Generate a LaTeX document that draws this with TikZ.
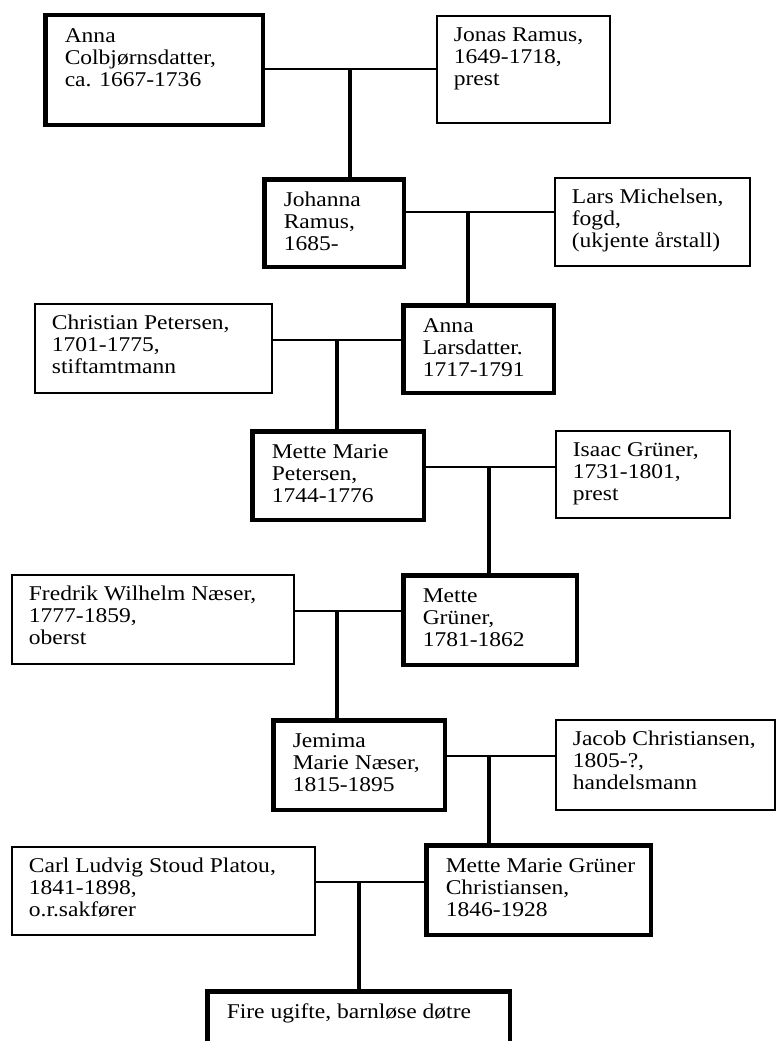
\documentclass[tikz,border=0pt]{standalone}
\usepackage{fontspec}
\setmainfont{Liberation Serif}[FakeStretch=1.12]

\tikzstyle{tykk}=[draw=black,line width=4.5pt,inner sep=0pt,font=\fontsize{21}{22}\selectfont,
  execute at begin node={\def\xpad{19.5pt}\def\ypad{12pt}}]
\tikzstyle{tynn}=[draw=black,line width=1.8pt,inner sep=0pt,font=\fontsize{21}{22}\selectfont,
  execute at begin node={\def\xpad{17pt}\def\ypad{10.5pt}}]
\tikzstyle{hlinje}=[draw=black,line width=1.8pt]
\tikzstyle{vlinje}=[draw=black,line width=3.5pt]

% text block in a box: width, height, lines
\newcommand{\navn}[3]{\parbox[t][#2pt][t]{#1pt}{\vspace*{\ypad}\hspace*{\xpad}%
  \begin{tabular}[t]{@{}l@{}}#3\end{tabular}}}

\begin{document}
\begin{tikzpicture}[x=1pt,y=-1pt]
\useasboundingbox (0,0) rectangle (783,1041);
\clip (0,0) rectangle (783,1041);

% Generations
   \node[tykk] (annaC) at (154,70) {\navn{217.5}{109.5}{Anna\\Colbjørnsdatter,\\ca. 1667-1736}};
   \node[tynn] (jonas) at (523.5,69.5) {\navn{173.2}{107.2}{Jonas Ramus,\\1649-1718,\\prest}};

   \node[tykk] (johanna) at (334,223) {\navn{139.5}{87.5}{Johanna\\Ramus,\\1685-}};
   \node[tynn] (lars) at (652.5,222) {\navn{195.2}{88.2}{Lars Michelsen,\\fogd,\\(ukjente årstall)}};

   \node[tynn] (christian) at (153.5,348.5) {\navn{237.2}{89.2}{Christian Petersen,\\1701-1775,\\stiftamtmann}};
   \node[tykk] (annaL) at (478.5,349) {\navn{150.5}{87.5}{Anna\\Larsdatter.\\1717-1791}};

   \node[tykk] (metteMP) at (338,475.5) {\navn{171.5}{88.5}{Mette Marie\\Petersen,\\1744-1776}};
   \node[tynn] (isaac) at (643,474.5) {\navn{174.2}{87.2}{Isaac Grüner,\\1731-1801,\\prest}};

   \node[tynn] (fredrik) at (153,619.5) {\navn{282.2}{89.2}{Fredrik Wilhelm Næser,\\1777-1859,\\oberst}};
   \node[tykk] (metteG) at (490,620) {\navn{173.5}{89.5}{Mette\\Grüner,\\1781-1862}};

   \node[tykk] (jemima) at (359,765) {\navn{171.5}{89.5}{Jemima\\Marie Næser,\\1815-1895}};
   \node[tynn] (jacob) at (665.5,765) {\navn{219.2}{90.2}{Jacob Christiansen,\\1805-?,\\handelsmann}};

   \node[tynn] (carl) at (163.5,891) {\navn{303.2}{88.2}{Carl Ludvig Stoud Platou,\\1841-1898,\\o.r.sakfører}};
   \node[tykk] (mmgc) at (538.5,890) {\navn{224.5}{89.5}{Mette Marie Grüner\\Christiansen,\\1846-1928}};

   \node[tykk] (fire) at (358.5,1036) {\navn{302.5}{89.5}{Fire ugifte, barnløse døtre}};

% Marriages and children
   \coordinate (k1) at (350,69);
   \draw[hlinje] (annaC.east |- k1) -- (jonas.west |- k1);
   \draw[vlinje] (k1) -- (johanna.north -| k1);

   \coordinate (k2) at (468,212);
   \draw[hlinje] (johanna.east |- k2) -- (lars.west |- k2);
   \draw[vlinje] (k2) -- (annaL.north -| k2);

   \coordinate (k3) at (337,340);
   \draw[hlinje] (christian.east |- k3) -- (annaL.west |- k3);
   \draw[vlinje] (k3) -- (metteMP.north -| k3);

   \coordinate (k4) at (489,467);
   \draw[hlinje] (metteMP.east |- k4) -- (isaac.west |- k4);
   \draw[vlinje] (k4) -- (metteG.north -| k4);

   \coordinate (k5) at (337,611);
   \draw[hlinje] (fredrik.east |- k5) -- (metteG.west |- k5);
   \draw[vlinje] (k5) -- (jemima.north -| k5);

   \coordinate (k6) at (489,756);
   \draw[hlinje] (jemima.east |- k6) -- (jacob.west |- k6);
   \draw[vlinje] (k6) -- (mmgc.north -| k6);

   \coordinate (k7) at (359,882);
   \draw[hlinje] (carl.east |- k7) -- (mmgc.west |- k7);
   \draw[vlinje] (k7) -- (fire.north -| k7);

\end{tikzpicture}
\end{document}
